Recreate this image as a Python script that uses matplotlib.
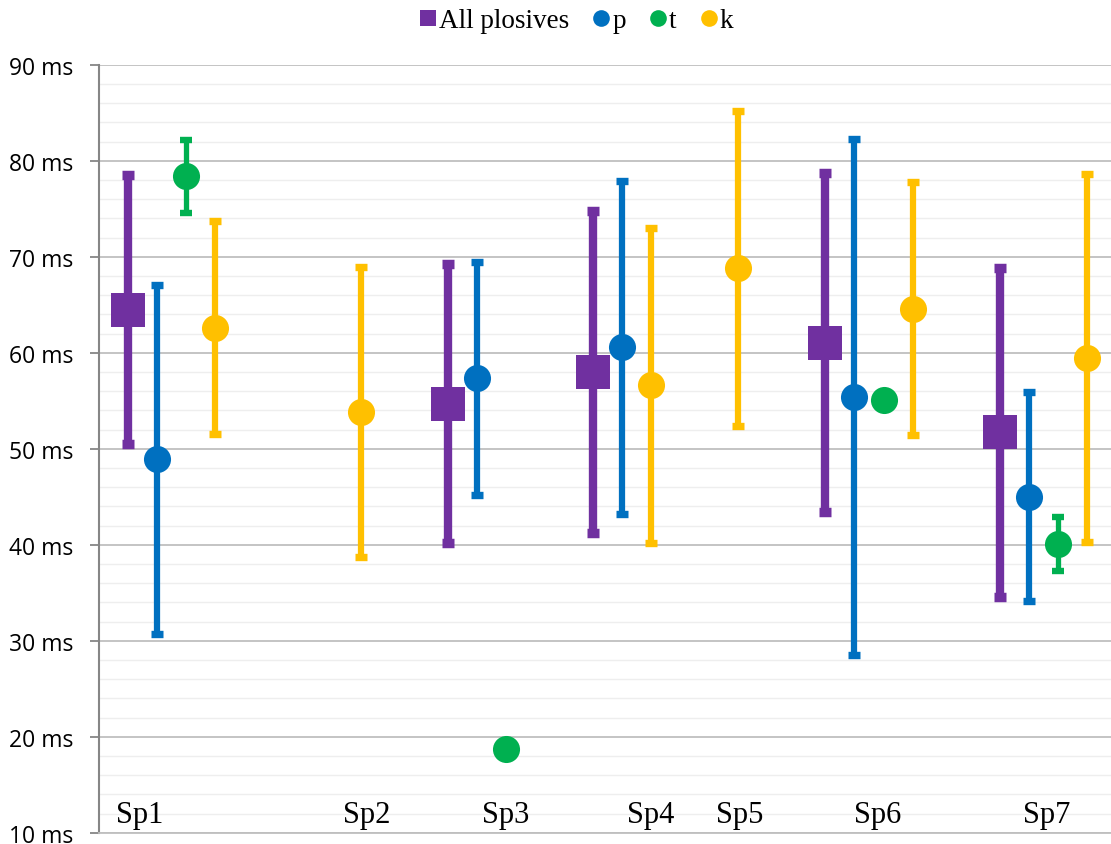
import numpy as np
import matplotlib.pyplot as plt
from matplotlib.ticker import MultipleLocator, FuncFormatter
from matplotlib.lines import Line2D

# Closure durations per speaker (mean and SD in ms), placed on a numeric x axis
speakers = ['Sp1', 'Sp2', 'Sp3', 'Sp4', 'Sp5', 'Sp6', 'Sp7']
speaker_x = [1.4, 9.2, 14.0, 19.0, 22.05, 26.8, 32.6]

all_x = [1, 12, 17, 25, 31]
all_mean = [64.5, 54.7, 58.0, 61.05, 51.7]
all_sd = [14.0, 14.55, 16.8, 17.65, 17.1]

p_x = [2, 13, 18, 26, 32]
p_mean = [48.9, 57.35, 60.55, 55.4, 45.0]
p_sd = [18.2, 12.15, 17.3, 26.9, 10.9]

t_x = [3, 14, 27, 33]
t_mean = [78.4, 18.7, 55.05, 40.05]
t_sd = [3.8, 0.0, 0.0, 2.8]

k_x = [4, 9, 19, 22, 28, 34]
k_mean = [62.6, 53.8, 56.6, 68.8, 64.6, 59.45]
k_sd = [11.1, 15.1, 16.4, 16.4, 13.2, 19.2]

purple = '#7030A0'
blue = '#0070C0'
green = '#00B050'
yellow = '#FFC000'

series = [
    ('All plosives', all_x, all_mean, all_sd, purple, 's', 25, 6.0),
    ('p', p_x, p_mean, p_sd, blue, 'o', 19.5, 4.5),
    ('t', t_x, t_mean, t_sd, green, 'o', 19.5, 3.8),
    ('k', k_x, k_mean, k_sd, yellow, 'o', 19.5, 4.5),
]

fig = plt.figure(figsize=(11.11, 8.45), dpi=100)
ax = fig.add_axes([0.0893, 0.01337, 1 - 0.0893, 0.9222 - 0.01337])

for name, xs, means, sds, color, marker, ms, lw in series:
    xs = np.array(xs, dtype=float)
    means = np.array(means)
    sds = np.array(sds)
    has_err = sds > 0
    if has_err.any():
        ax.errorbar(xs[has_err], means[has_err], yerr=sds[has_err], fmt='none',
                    ecolor=color, elinewidth=lw, capsize=4.4, capthick=lw + 0.8,
                    zorder=3)
    ax.plot(xs, means, linestyle='none', marker=marker, markersize=ms,
            color=color, markeredgewidth=0, zorder=4)

for label, x in zip(speakers, speaker_x):
    ax.text(x, 11.9, label, ha='center', va='center', fontsize=22,
            family='Liberation Serif', color='black', zorder=5)

ax.set_xlim(0, 34.83)
ax.set_ylim(10, 90)
ax.yaxis.set_major_locator(MultipleLocator(10))
ax.yaxis.set_minor_locator(MultipleLocator(2))
ax.yaxis.set_major_formatter(FuncFormatter(lambda v, pos: f'{v:.0f} ms'))
ax.set_xticks([])

ax.grid(which='major', axis='y', color='#BFBFBF', linewidth=1.3, zorder=0)
ax.grid(which='minor', axis='y', color='#EEEEEE', linewidth=1.0, zorder=0)
ax.set_axisbelow(True)

for side in ['top', 'right']:
    ax.spines[side].set_visible(False)
ax.spines['bottom'].set_color('#BFBFBF')
ax.spines['bottom'].set_linewidth(1.3)
ax.spines['left'].set_color('#868686')
ax.spines['left'].set_linewidth(1.5)

ax.tick_params(axis='y', which='major', direction='out', length=6.5, width=1.3,
               color='#868686', pad=12, labelsize=16.5)
ax.tick_params(axis='y', which='minor', length=0)
for lbl in ax.get_yticklabels():
    lbl.set_family('Open Sans')

handles = [Line2D([], [], linestyle='none', marker=m, color=c, markersize=12,
                  markeredgewidth=0) for _, _, _, _, c, m, _, _ in series]
names = [s[0] for s in series]
fig.legend(handles, names, loc='center', bbox_to_anchor=(0.519, 0.974), ncol=4,
           frameon=False, handlelength=0.6, handletextpad=0.1, columnspacing=0.9,
           prop={'family': 'Liberation Serif', 'size': 19.5})

fig.savefig('out.png', dpi=100)
